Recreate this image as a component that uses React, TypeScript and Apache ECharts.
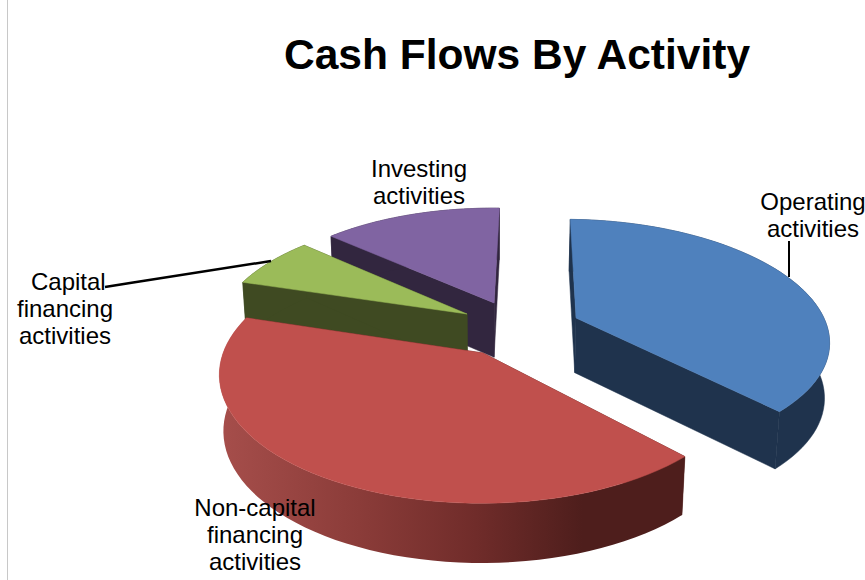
import React, { useEffect, useRef } from "react";
import * as echarts from "echarts";

// Share of each slice in percent, clockwise from the start angle
const sliceNames = ["Operating activities", "Non-capital financing activities", "Capital financing activities", "Investing activities"];
const sliceValues = [37.5, 41.8, 7.0, 13.7];
const paintOrder = [3, 2, 1, 0];

const topColors = ["#4f81bd", "#c0504d", "#9bbb59", "#8064a2"];
const flatWall = ["#1f334d", "#4e1e1c", "#3f4a22", "#32263f"];
const explodeU = [0.347, -0.027, -0.093, 0.017];
const explodeV = [0.1035, -0.189, 0.1386, 0.2375];

const START_DEG = 1.6;
const CX = 490, CY = 330, A = 252, B = 118, K = 0.16, DEPTH = 55;

function project(u: number, v: number, bottom: boolean): number[] {
  const s = 1 / (1 + K * v);
  const x = CX + A * u * s * (bottom ? 0.985 : 1);
  const y = CY - B * v * s * (bottom ? 0.99 : 1) + (bottom ? DEPTH * (1 + 0.5 * (s - 1)) : 0);
  return [x, y];
}

function renderItem(params: any) {
  const idx = paintOrder[params.dataIndex];
  const total = sliceValues.reduce((a, b) => a + b, 0);
  let before = 0;
  for (let i = 0; i < idx; i++) before += sliceValues[i];
  const a0 = ((START_DEG + (before / total) * 360) * Math.PI) / 180;
  const a1 = ((START_DEG + ((before + sliceValues[idx]) / total) * 360) * Math.PI) / 180;
  const ou = explodeU[idx], ov = explodeV[idx];
  const rimWorld: number[][] = [];
  const n = 60;
  for (let i = 0; i <= n; i++) {
    const t = a0 + ((a1 - a0) * i) / n;
    rimWorld.push([ou + Math.sin(t), ov + Math.cos(t)]);
  }
  const rimTop = rimWorld.map((p) => project(p[0], p[1], false));
  const rimBot = rimWorld.map((p) => project(p[0], p[1], true));
  const apexTop = project(ou, ov, false);
  const apexBot = project(ou, ov, true);
  const wallFill: any =
    idx === 1
      ? {
          type: "linear", x: 0, y: 0, x2: 1, y2: 0,
          colorStops: [
            { offset: 0, color: "#a64e4b" },
            { offset: 0.3, color: "#8b3c39" },
            { offset: 0.55, color: "#702c2a" },
            { offset: 0.78, color: "#4e1e1c" },
            { offset: 1, color: "#4e1e1c" },
          ],
        }
      : flatWall[idx];
  const poly = (points: number[][], fill: any) => ({
    type: "polygon",
    shape: { points },
    style: { fill, stroke: typeof fill === "string" ? fill : "none", lineWidth: 0.5 },
  });
  return {
    type: "group",
    children: [
      poly([apexTop, rimTop[0], rimBot[0], apexBot], flatWall[idx]),
      poly([apexTop, rimTop[n], rimBot[n], apexBot], flatWall[idx]),
      poly([...rimTop, ...rimBot.slice().reverse()], wallFill),
      poly([apexTop, ...rimTop], topColors[idx]),
    ],
  };
}

const labelFont = { fontFamily: "Liberation Sans", fontSize: 24, lineHeight: 27, fill: "#000", align: "center", verticalAlign: "middle" };

export default function App() {
  const ref = useRef<HTMLDivElement>(null);
  useEffect(() => {
    const chart = echarts.init(ref.current!, null, { renderer: "svg" });
    chart.setOption({
      animation: false,
      backgroundColor: "#ffffff",
      title: {
        text: "Cash Flows By Activity",
        left: 512,
        top: 28,
        textAlign: "center",
        textStyle: { fontFamily: "Liberation Sans", fontWeight: "bold", fontSize: 42.5, color: "#000" },
      },
      series: [
        {
          type: "custom",
          coordinateSystem: "none",
          renderItem,
          data: paintOrder.map((i) => ({ name: sliceNames[i], value: [sliceValues[i]] })),
        },
      ],
      graphic: [
        { type: "line", z: 100, shape: { x1: 7.5, y1: 0, x2: 7.5, y2: 580 }, style: { stroke: "#c8c8c8", lineWidth: 1 } },
        { type: "polyline", z: 100, shape: { points: [[105, 287], [130, 283], [271, 261]] }, style: { stroke: "#000", lineWidth: 2.5, fill: "none" } },
        { type: "line", z: 100, shape: { x1: 789, y1: 241, x2: 789, y2: 277 }, style: { stroke: "#000", lineWidth: 2 } },
        { type: "text", z: 100, x: 813, y: 215, style: { ...labelFont, text: "Operating\nactivities" } },
        { type: "text", z: 100, x: 419, y: 182, style: { ...labelFont, text: "Investing\nactivities" } },
        { type: "text", z: 100, x: 65, y: 308, style: { ...labelFont, text: " Capital\nfinancing\nactivities" } },
        { type: "text", z: 100, x: 255, y: 534, style: { ...labelFont, text: "Non-capital\nfinancing\nactivities" } },
      ],
    });
    return () => chart.dispose();
  }, []);
  return <div ref={ref} style={{ position: "absolute", left: 0, top: 0, width: 865, height: 580 }} />;
}
